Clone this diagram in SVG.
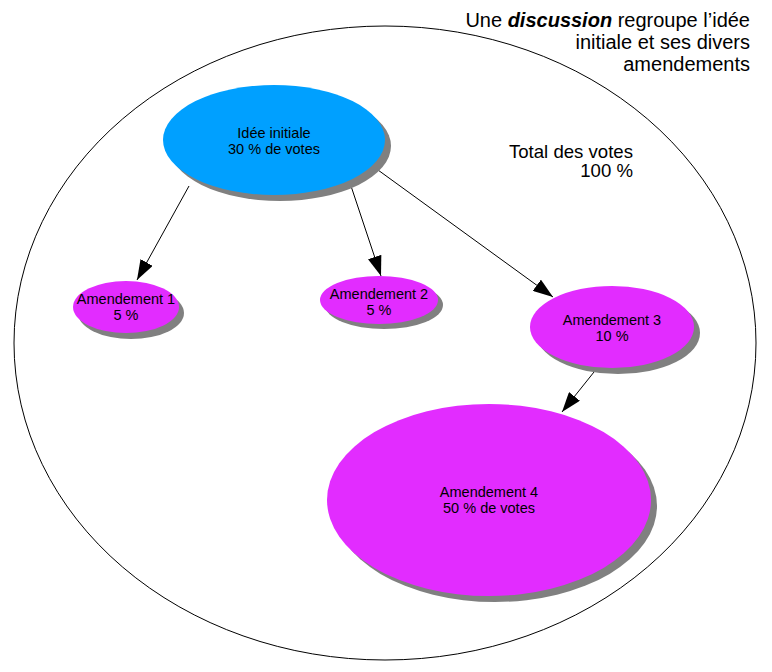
<svg xmlns="http://www.w3.org/2000/svg" width="772" height="672" viewBox="0 0 772 672">
<style>
.t{font-family:"Liberation Sans",Arial,sans-serif;fill:#000}
.n{font-size:14.5px;text-anchor:middle}
.sh{fill:#808080}
.mag{fill:#e22cff}
.blue{fill:#00a0ff}
.c{stroke:#000;stroke-width:1;fill:none}
</style>
<defs>
<marker id="ah" viewBox="0 0 20 14" refX="20" refY="7" markerWidth="20" markerHeight="14" markerUnits="userSpaceOnUse" orient="auto">
<path d="M0,0 L20,7 L0,14 z" fill="#000"/>
</marker>
</defs>
<rect width="772" height="672" fill="#fff"/>
<g id="discussion">
<ellipse cx="385" cy="343" rx="371" ry="317" fill="none" stroke="#000" stroke-width="1"/>
<text class="t" font-size="20" text-anchor="end"><tspan x="750" y="27">Une <tspan font-weight="bold" font-style="italic">discussion</tspan> regroupe l’idée</tspan><tspan x="750" y="49">initiale et ses divers</tspan><tspan x="750" y="71">amendements</tspan></text>
</g>
<g id="total">
<text class="t" font-size="18.6" text-anchor="end"><tspan x="633" y="158">Total des votes</tspan><tspan x="633" y="177">100 %</tspan></text>
</g>
<g id="connectors">
<line class="c" x1="189" y1="186" x2="137" y2="280" marker-end="url(#ah)"/>
<line class="c" x1="351" y1="186" x2="381" y2="276" marker-end="url(#ah)"/>
<line class="c" x1="378" y1="170" x2="553" y2="297" marker-end="url(#ah)"/>
<line class="c" x1="594" y1="372" x2="562" y2="412" marker-end="url(#ah)"/>
</g>
<g id="idee">
<ellipse class="sh" cx="280" cy="146" rx="111" ry="55"/>
<ellipse class="blue" cx="274" cy="140" rx="111" ry="55"/>
<text class="t n"><tspan x="274" y="138">Idée initiale</tspan><tspan x="274" y="154">30 % de votes</tspan></text>
</g>
<g id="am1">
<ellipse class="sh" cx="131" cy="313" rx="53" ry="26"/>
<ellipse class="mag" cx="126" cy="307" rx="53" ry="26"/>
<text class="t n"><tspan x="126" y="304">Amendement 1</tspan><tspan x="126" y="320">5 %</tspan></text>
</g>
<g id="am2">
<ellipse class="sh" cx="384" cy="305" rx="59" ry="24"/>
<ellipse class="mag" cx="379" cy="300" rx="59" ry="24"/>
<text class="t n"><tspan x="379" y="299">Amendement 2</tspan><tspan x="379" y="315">5 %</tspan></text>
</g>
<g id="am3">
<ellipse class="sh" cx="618" cy="333" rx="82" ry="41"/>
<ellipse class="mag" cx="612" cy="327" rx="82" ry="41"/>
<text class="t n"><tspan x="612" y="325">Amendement 3</tspan><tspan x="612" y="341">10 %</tspan></text>
</g>
<g id="am4">
<ellipse class="sh" cx="495" cy="506" rx="162" ry="96"/>
<ellipse class="mag" cx="489" cy="500" rx="162" ry="96"/>
<text class="t n"><tspan x="489" y="497">Amendement 4</tspan><tspan x="489" y="513">50 % de votes</tspan></text>
</g>
</svg>
